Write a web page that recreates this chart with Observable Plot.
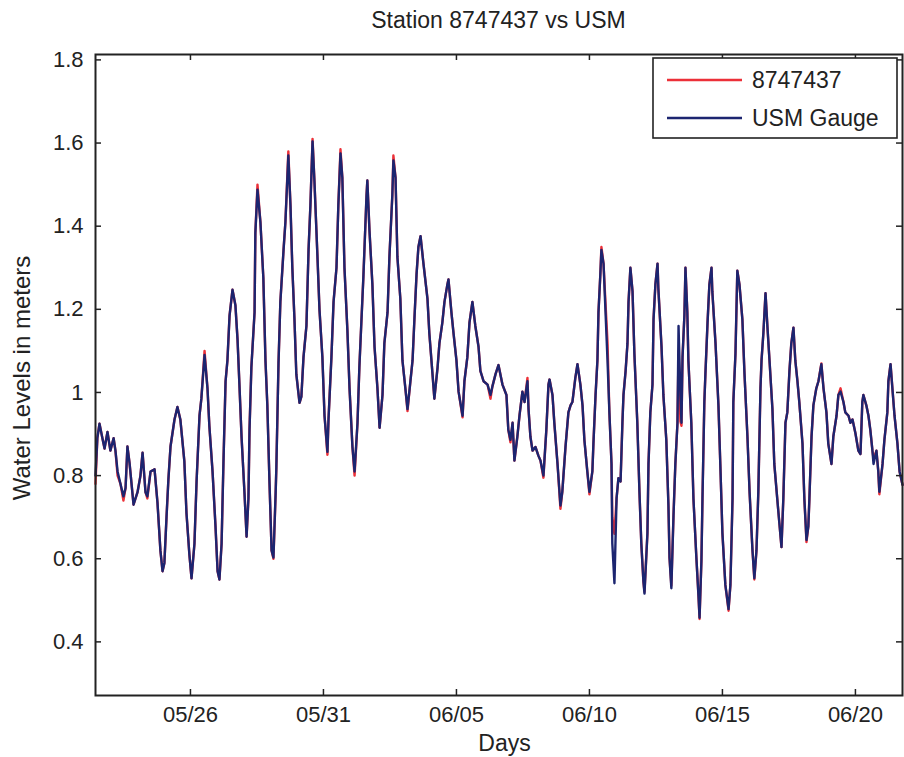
<!DOCTYPE html>
<html><head><meta charset="utf-8">
<script src="https://cdn.jsdelivr.net/npm/d3@7"></script>
<script src="https://cdn.jsdelivr.net/npm/@observablehq/plot@0.6"></script>
<style>
body{margin:0;background:#fff;}
#chart{position:relative;width:904px;height:757px;}
</style></head><body><div id="chart"></div>
<script>
// time in decimal days of May 2013 (32 = June 1)
const days = [
22.43,22.50,22.58,22.69,22.77,22.88,22.99,23.11,23.18,23.26,
23.37,23.48,23.56,23.63,23.71,23.86,24.01,24.12,24.20,24.31,
24.38,24.50,24.65,24.76,24.87,24.95,25.02,25.10,25.17,25.25,
25.40,25.51,25.62,25.77,25.85,25.96,26.04,26.15,26.23,26.34,
26.41,26.53,26.64,26.71,26.83,26.94,27.02,27.09,27.17,27.24,
27.32,27.39,27.47,27.58,27.69,27.77,27.84,27.92,28.03,28.11,
28.18,28.22,28.29,28.41,28.44,28.52,28.63,28.74,28.82,28.89,
28.97,29.05,29.12,29.20,29.23,29.31,29.38,29.50,29.57,29.68,
29.76,29.83,29.91,29.98,30.10,30.17,30.25,30.36,30.44,30.51,
30.59,30.66,30.77,30.85,30.96,31.04,31.15,31.19,31.30,31.38,
31.49,31.56,31.64,31.71,31.79,31.90,31.98,32.09,32.17,32.28,
32.35,32.43,32.50,32.62,32.65,32.73,32.84,32.92,33.03,33.11,
33.22,33.29,33.41,33.48,33.59,33.63,33.71,33.78,33.89,33.97,
34.08,34.16,34.27,34.35,34.42,34.50,34.57,34.65,34.76,34.91,
34.98,35.10,35.17,35.29,35.36,35.47,35.55,35.66,35.70,35.81,
35.89,36.00,36.08,36.23,36.30,36.41,36.49,36.60,36.71,36.83,
36.90,37.02,37.17,37.28,37.35,37.47,37.58,37.73,37.88,37.95,
38.03,38.11,38.18,38.29,38.37,38.48,38.56,38.67,38.71,38.78,
38.86,38.97,39.08,39.16,39.27,39.38,39.46,39.50,39.61,39.68,
39.80,39.91,39.98,40.10,40.21,40.29,40.36,40.47,40.55,40.66,
40.74,40.81,40.92,41.00,41.11,41.15,41.23,41.30,41.34,41.41,
41.45,41.53,41.60,41.68,41.75,41.83,41.86,41.94,42.02,42.09,
42.17,42.24,42.28,42.36,42.43,42.47,42.54,42.62,42.69,42.80,
42.88,42.95,43.03,43.07,43.18,43.22,43.29,43.37,43.41,43.48,
43.56,43.59,43.71,43.78,43.89,43.97,44.01,44.08,44.16,44.23,
44.31,44.35,44.42,44.46,44.50,44.57,44.61,44.68,44.72,44.83,
44.91,45.02,45.10,45.14,45.21,45.25,45.32,45.36,45.44,45.51,
45.59,45.62,45.74,45.85,45.92,46.00,46.11,46.23,46.30,46.38,
46.41,46.49,46.56,46.64,46.75,46.83,46.94,47.02,47.13,47.20,
47.28,47.35,47.43,47.47,47.54,47.62,47.69,47.77,47.88,47.95,
48.06,48.14,48.22,48.29,48.37,48.44,48.52,48.59,48.67,48.74,
48.82,48.89,49.01,49.08,49.16,49.23,49.27,49.35,49.42,49.53,
49.61,49.72,49.80,49.91,49.98,50.10,50.17,50.29,50.36,50.44,
50.55,50.62,50.74,50.81,50.89,51.00,51.11,51.19,51.26,51.30,
51.41,51.49,51.56,51.64,51.68,51.79,51.86,51.90,52.02,52.09,
52.20,52.24,52.32,52.39,52.47,52.58,52.66,52.77
];

const usmGauge = [
0.80,0.89,0.925,0.89,0.865,0.905,0.86,0.89,0.86,0.81,
0.78,0.75,0.77,0.87,0.83,0.73,0.76,0.80,0.855,0.76,
0.75,0.81,0.815,0.735,0.62,0.57,0.59,0.70,0.79,0.87,
0.935,0.965,0.935,0.835,0.71,0.61,0.553,0.636,0.786,0.944,
0.985,1.09,1.01,0.92,0.81,0.68,0.57,0.55,0.636,0.83,
1.027,1.077,1.185,1.247,1.21,1.127,1.02,0.894,0.76,0.653,
0.745,0.91,1.06,1.193,1.384,1.488,1.41,1.276,1.077,0.97,
0.786,0.62,0.603,0.753,0.82,1.07,1.218,1.343,1.41,1.57,
1.45,1.30,1.176,1.044,0.975,0.99,1.085,1.16,1.343,1.45,
1.604,1.51,1.334,1.20,1.085,0.944,0.857,0.935,1.085,1.218,
1.30,1.45,1.575,1.517,1.30,1.15,1.01,0.869,0.81,0.927,
1.06,1.176,1.276,1.475,1.51,1.39,1.26,1.11,1.01,0.915,
0.994,1.118,1.193,1.326,1.475,1.558,1.517,1.326,1.226,1.077,
1.01,0.96,1.027,1.077,1.176,1.284,1.35,1.376,1.31,1.226,
1.143,1.044,0.985,1.06,1.118,1.168,1.218,1.26,1.272,1.193,
1.143,1.077,1.002,0.944,1.027,1.085,1.168,1.218,1.16,1.11,
1.052,1.027,1.019,0.994,1.014,1.044,1.066,1.019,0.994,0.91,
0.886,0.927,0.836,0.894,0.944,1.002,0.977,1.027,0.96,0.894,
0.86,0.869,0.848,0.836,0.80,0.91,1.019,1.031,0.994,0.927,
0.828,0.728,0.761,0.869,0.952,0.969,0.977,1.035,1.068,1.019,
0.969,0.886,0.81,0.761,0.81,0.877,0.994,1.077,1.193,1.284,
1.343,1.31,1.201,1.077,0.952,0.828,0.637,0.541,0.745,0.794,
0.786,0.927,0.994,1.052,1.118,1.218,1.30,1.243,1.093,0.927,
0.761,0.637,0.545,0.516,0.661,0.828,0.952,1.019,1.176,1.26,
1.31,1.251,1.11,0.994,0.886,0.728,0.603,0.529,0.703,0.828,
0.927,1.16,0.994,0.927,1.085,1.185,1.30,1.193,1.077,0.927,
0.745,0.603,0.51,0.458,0.595,0.745,0.977,1.044,1.168,1.26,
1.30,1.243,1.118,0.969,0.828,0.661,0.537,0.479,0.537,0.745,
0.977,1.093,1.293,1.26,1.176,1.044,0.894,0.761,0.62,0.553,
0.62,0.761,1.01,1.077,1.143,1.239,1.16,1.077,0.96,0.828,
0.745,0.686,0.628,0.745,0.927,0.952,1.052,1.118,1.156,1.077,
1.027,0.977,0.877,0.745,0.645,0.678,0.745,0.894,0.969,1.01,
1.027,1.068,1.01,0.952,0.877,0.828,0.894,0.944,0.994,1.002,
0.977,0.952,0.944,0.927,0.935,0.902,0.86,0.852,0.977,0.994,
0.969,0.944,0.91,0.86,0.828,0.86,0.81,0.761,0.828,0.886,
0.952,1.027,1.068,1.01,0.944,0.877,0.81,0.778
];

const station8747437 = [
0.78,0.89,0.925,0.89,0.865,0.905,0.86,0.89,0.86,0.80,
0.78,0.74,0.77,0.87,0.83,0.73,0.76,0.80,0.855,0.76,
0.745,0.81,0.815,0.735,0.62,0.57,0.59,0.70,0.79,0.87,
0.935,0.965,0.935,0.835,0.71,0.61,0.553,0.636,0.786,0.944,
0.985,1.10,1.01,0.92,0.81,0.68,0.57,0.55,0.636,0.83,
1.027,1.077,1.185,1.247,1.21,1.127,1.02,0.894,0.76,0.653,
0.745,0.91,1.06,1.193,1.384,1.50,1.41,1.276,1.077,0.97,
0.786,0.62,0.60,0.753,0.82,1.07,1.218,1.343,1.41,1.58,
1.45,1.30,1.176,1.044,0.975,0.99,1.085,1.16,1.343,1.45,
1.61,1.51,1.334,1.20,1.085,0.944,0.85,0.935,1.085,1.218,
1.30,1.45,1.585,1.517,1.30,1.15,1.01,0.869,0.80,0.927,
1.06,1.176,1.276,1.475,1.51,1.39,1.26,1.11,1.01,0.915,
0.994,1.118,1.193,1.326,1.475,1.57,1.517,1.326,1.226,1.077,
1.01,0.955,1.027,1.077,1.176,1.284,1.35,1.376,1.31,1.226,
1.143,1.044,0.985,1.06,1.118,1.168,1.218,1.26,1.272,1.193,
1.143,1.077,1.002,0.94,1.027,1.085,1.168,1.218,1.16,1.11,
1.052,1.027,1.019,0.985,1.014,1.044,1.066,1.019,0.994,0.91,
0.88,0.927,0.836,0.894,0.944,1.002,0.977,1.035,0.96,0.894,
0.86,0.869,0.848,0.836,0.795,0.91,1.019,1.031,0.994,0.927,
0.828,0.72,0.761,0.869,0.952,0.969,0.977,1.035,1.068,1.019,
0.969,0.886,0.81,0.755,0.81,0.877,0.994,1.077,1.193,1.284,
1.35,1.31,1.22,1.12,0.952,0.828,0.70,0.66,0.745,0.794,
0.786,0.927,0.994,1.052,1.118,1.218,1.30,1.243,1.093,0.927,
0.761,0.637,0.545,0.52,0.661,0.828,0.952,1.019,1.176,1.26,
1.31,1.251,1.11,0.994,0.886,0.728,0.603,0.535,0.703,0.828,
0.927,1.10,0.93,0.92,1.085,1.185,1.30,1.193,1.077,0.927,
0.745,0.603,0.51,0.455,0.595,0.745,0.977,1.044,1.168,1.26,
1.30,1.243,1.118,0.969,0.828,0.661,0.537,0.475,0.537,0.745,
0.977,1.093,1.293,1.26,1.176,1.044,0.894,0.761,0.62,0.55,
0.62,0.761,1.01,1.077,1.143,1.239,1.16,1.077,0.96,0.828,
0.745,0.686,0.628,0.745,0.927,0.952,1.052,1.118,1.156,1.077,
1.027,0.977,0.877,0.745,0.64,0.678,0.745,0.894,0.969,1.01,
1.027,1.07,1.01,0.952,0.877,0.828,0.894,0.944,0.994,1.01,
0.977,0.952,0.944,0.927,0.935,0.902,0.86,0.852,0.977,0.994,
0.969,0.944,0.91,0.86,0.84,0.86,0.81,0.755,0.828,0.886,
0.952,1.027,1.068,1.01,0.944,0.877,0.81,0.778
];

const seriesNames = ["8747437", "USM Gauge"];
const seriesColors = ["#ec3038", "#1c2570"];
const yTicks = [0.4, 0.6, 0.8, 1, 1.2, 1.4, 1.6, 1.8];
const xTickDays = [26, 31, 36, 41, 46, 51];
const xDomainDays = [22.43, 52.77];
const yDomain = [0.271, 1.813];
const titleText = "Station 8747437 vs USM";
const xLabel = "Days";
const yLabel = "Water Levels in meters";

const base = Date.UTC(2013, 4, 0);
const toDate = t => new Date(base + t * 864e5);

const rows = [];
const n = Math.min(days.length, usmGauge.length, station8747437.length);
for (let i = 0; i < n; i++) rows.push({date: toDate(days[i]), level: station8747437[i], series: seriesNames[0]});
for (let i = 0; i < n; i++) rows.push({date: toDate(days[i]), level: usmGauge[i], series: seriesNames[1]});

const W = 904, H = 757, mt = 54, mb = 62, ml = 95, mr = 2;
const pw = W - ml - mr, ph = H - mt - mb;
const font = "'Liberation Sans',Arial,sans-serif";
const ink = "#222";
const tickLen = 6;

const plot = Plot.plot({
  width: W, height: H,
  marginTop: mt, marginBottom: mb, marginLeft: ml, marginRight: mr,
  style: {fontFamily: font, fontSize: "22px", color: ink, background: "#fff", overflow: "visible"},
  x: {type: "utc", domain: xDomainDays.map(toDate), ticks: xTickDays.map(toDate),
      tickFormat: d3.utcFormat("%m/%d"), tickSize: 0, tickPadding: 11, label: null},
  y: {domain: yDomain, ticks: yTicks, tickFormat: d => String(d), tickSize: 0, tickPadding: 12, label: null},
  color: {domain: seriesNames, range: seriesColors},
  marks: [
    Plot.line(rows, {x: "date", y: "level", z: "series", stroke: "series", strokeWidth: 2.4}),
    Plot.tickY(yTicks, {y: d => d, insetRight: pw - tickLen, stroke: ink, strokeWidth: 1.5}),
    Plot.tickY(yTicks, {y: d => d, insetLeft: pw - tickLen, stroke: ink, strokeWidth: 1.5}),
    Plot.tickX(xTickDays.map(toDate), {x: d => d, insetTop: ph - tickLen, stroke: ink, strokeWidth: 1.5}),
    Plot.tickX(xTickDays.map(toDate), {x: d => d, insetBottom: ph - tickLen, stroke: ink, strokeWidth: 1.5}),
    Plot.frame({stroke: ink, strokeWidth: 2})
  ]
});

document.getElementById("chart").appendChild(plot);
const svg = d3.select(plot);

svg.append("text").attr("x", ml + pw / 2).attr("y", 28)
  .attr("text-anchor", "middle").attr("fill", ink)
  .style("font-family", font).style("font-size", "23px").text(titleText);
svg.append("text").attr("x", ml + pw / 2 + 6).attr("y", 751)
  .attr("text-anchor", "middle").attr("fill", ink)
  .style("font-family", font).style("font-size", "23px").text(xLabel);
svg.append("text").attr("transform", "translate(30,378) rotate(-90)")
  .attr("text-anchor", "middle").attr("fill", ink)
  .style("font-family", font).style("font-size", "24px").text(yLabel);

// legend
const lg = svg.append("g");
lg.append("rect").attr("x", 653).attr("y", 58).attr("width", 244).attr("height", 80)
  .attr("fill", "#fff").attr("stroke", ink).attr("stroke-width", 1.6);
seriesNames.forEach((name, i) => {
  const y = 80 + i * 38;
  lg.append("line").attr("x1", 667).attr("x2", 742).attr("y1", y).attr("y2", y)
    .attr("stroke", seriesColors[i]).attr("stroke-width", 2.4);
  lg.append("text").attr("x", 752).attr("y", y).attr("dy", "0.36em")
    .attr("text-anchor", "start").attr("fill", ink)
    .style("font-family", font).style("font-size", "23px").text(name);
});
</script>
</body></html>
